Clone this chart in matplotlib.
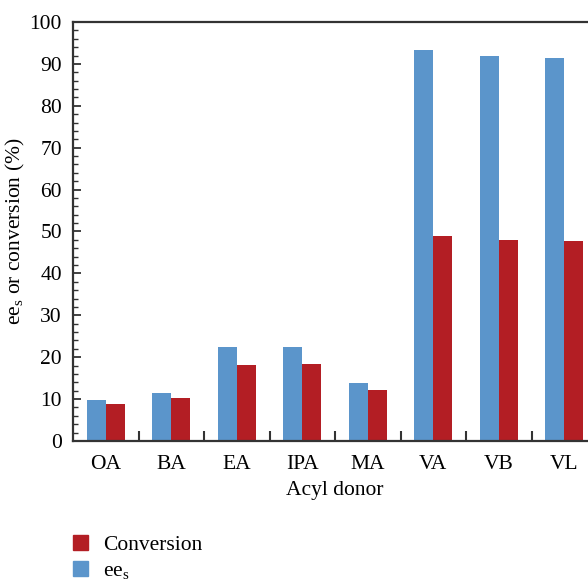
import numpy as np
import matplotlib.pyplot as plt
from matplotlib.patches import Patch
from matplotlib.ticker import MultipleLocator, FixedLocator

# data
donors = ['OA', 'BA', 'EA', 'IPA', 'MA', 'VA', 'VB', 'VL']
ees = [9.8, 11.5, 22.4, 22.4, 13.8, 93.3, 91.9, 91.4]
conversion = [8.8, 10.3, 18.1, 18.4, 12.2, 48.9, 48.0, 47.7]

blue = '#5b95cb'
red = '#b31e24'

plt.rcParams['font.family'] = ['Liberation Serif', 'DejaVu Serif']
fs = 15.5

fig = plt.figure(figsize=(5.88, 5.82), dpi=100)
# axis runs past the right edge of the picture, as in the original
ax = fig.add_axes([73 / 588, 1 - 441 / 582, 524 / 588, 419 / 582])

x = np.arange(len(donors))
w = 0.29
ax.bar(x - w / 2, ees, w, color=blue, zorder=2)
ax.bar(x + w / 2, conversion, w, color=red, zorder=2)

ax.set_xlim(-0.5, len(donors) - 0.5)
ax.set_ylim(0, 100)

# category labels centred, ticks between groups
ax.set_xticks(x)
ax.set_xticklabels(donors)
ax.xaxis.set_minor_locator(FixedLocator(x[:-1] + 0.5))
ax.tick_params(axis='x', which='major', length=0, pad=10, labelsize=fs)
ax.tick_params(axis='x', which='minor', direction='in', length=7, width=1.5, color='#333333')

ax.yaxis.set_major_locator(MultipleLocator(10))
ax.yaxis.set_minor_locator(MultipleLocator(2))
ax.tick_params(axis='y', which='major', direction='in', length=6, width=1.3,
               color='#333333', pad=8, labelsize=fs)
ax.tick_params(axis='y', which='minor', direction='in', length=3.5, width=1.0, color='#333333')

for side in ['left', 'top', 'bottom', 'right']:
    ax.spines[side].set_linewidth(1.6)
    ax.spines[side].set_color('#333333')

ax.set_xlabel('Acyl donor', fontsize=fs)
ax.xaxis.set_label_coords(0.5, -0.095)
ax.set_ylabel('ee$_\\mathregular{s}$ or conversion (%)', fontsize=fs)
ax.yaxis.set_label_coords(-0.088, 0.5)

handles = [Patch(color=red, label='Conversion'),
           Patch(color=blue, label='ee$_\\mathregular{s}$')]
fig.legend(handles=handles, loc='upper left', bbox_to_anchor=(73 / 588, 1 - 535 / 582),
           frameon=False, borderaxespad=0, borderpad=0, fontsize=fs,
           handlelength=0.7, handleheight=0.7, handletextpad=0.7, labelspacing=0.28)

fig.savefig('out.png', dpi=100)
